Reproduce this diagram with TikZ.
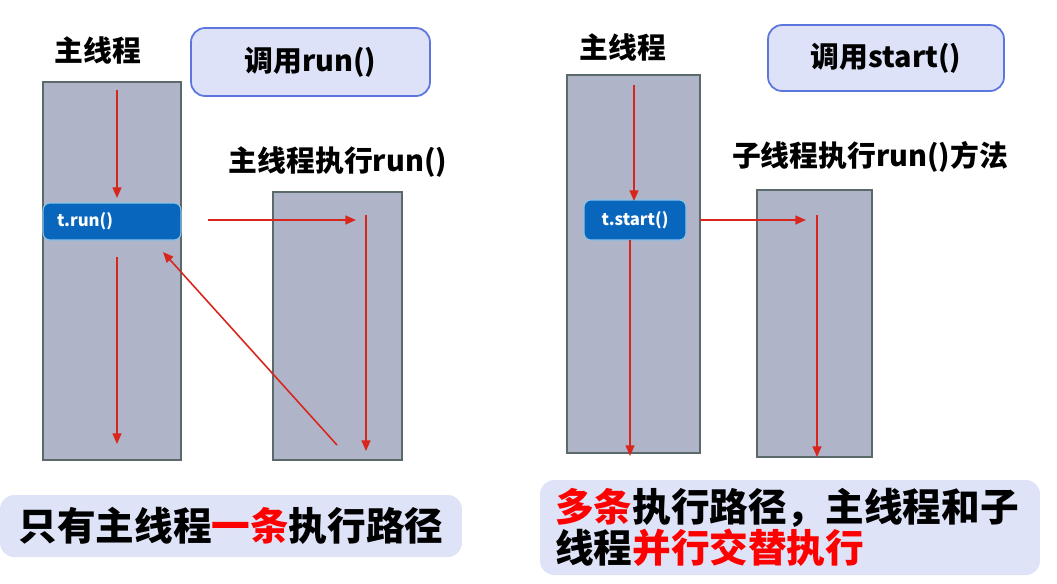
\documentclass[tikz,border=0pt]{standalone}
\usepackage{fontspec}
\setmainfont{Noto Sans CJK SC}
\usetikzlibrary{positioning,arrows.meta}
\definecolor{ThreadGray}{RGB}{175,180,201}
\definecolor{ThreadEdge}{RGB}{90,106,106}
\definecolor{CallFill}{RGB}{221,226,248}
\definecolor{CallEdge}{RGB}{92,118,222}
\definecolor{NoteFill}{RGB}{222,227,247}
\definecolor{MethodBlue}{RGB}{8,102,188}
\definecolor{MethodEdge}{RGB}{140,196,232}
\definecolor{FlowRed}{RGB}{216,38,28}

\begin{document}
\begin{tikzpicture}[x=0.02cm,y=-0.02cm,
	thread/.style={rectangle,draw=ThreadEdge,line width=1.2pt,fill=ThreadGray},
	callbox/.style={rectangle,draw=CallEdge,line width=1pt,fill=CallFill,rounded corners=8pt,
		font=\fontsize{16.4}{18}\selectfont\bfseries},
	method/.style={rectangle,draw=MethodEdge,line width=0.6pt,fill=MethodBlue,rounded corners=4pt,
		text=white,font=\fontsize{9.5}{11}\selectfont\bfseries},
	title/.style={font=\fontsize{16.4}{18}\selectfont\bfseries},
	note/.style={rectangle,fill=NoteFill,rounded corners=8pt,
		font=\fontsize{22}{23.2}\selectfont\bfseries},
	flow/.style={draw=FlowRed,line width=0.9pt,-{Triangle[length=6pt,width=5pt]}}]
	\useasboundingbox (0,0) rectangle (1057,583);

	% --- left: calling run()
	\node [title] (mainL) at (98,50) {主线程};
	\node [callbox,minimum width=4.78cm,minimum height=1.36cm] (callRun) at (310.5,62) {调用run()};
	\node [thread,minimum width=2.76cm,minimum height=7.56cm] (threadL) at (112,271) {};
	\node [method,minimum width=2.76cm,minimum height=0.74cm,text width=2.2cm,
		inner xsep=0.28cm,align=left] (trun) at (112,221.5) {t.run()};
	\node [title] (runL) at (338,162) {主线程执行run()};
	\node [thread,minimum width=2.58cm,minimum height=5.36cm] (bodyL) at (337.5,326) {};
	\node [note,minimum width=9.24cm,minimum height=1.24cm] (noteL) at (231,526)
		{只有主线程\textcolor{red}{一条}执行路径};

	\coordinate (l1) at (117,90);
	\coordinate (l2) at (117,198);
	\coordinate (l3) at (117,257);
	\coordinate (l4) at (117,444);
	\coordinate (l5) at (208,220);
	\coordinate (l6) at (356,220);
	\coordinate (l7) at (366,215);
	\coordinate (l8) at (366,451);
	\coordinate (l9) at (337,445);
	\coordinate (l10) at (163,252);
	\draw [flow] (l1) -- (l2);
	\draw [flow] (l3) -- (l4);
	\draw [flow] (l5) -- (l6);
	\draw [flow] (l7) -- (l8);
	\draw [flow] (l9) -- (l10);

	% --- right: calling start()
	\node [title] (mainR) at (623,47) {主线程};
	\node [callbox,minimum width=4.72cm,minimum height=1.32cm] (callStart) at (886,58) {调用start()};
	\node [thread,minimum width=2.66cm,minimum height=7.56cm] (threadR) at (633.5,264) {};
	\node [method,minimum width=2.04cm,minimum height=0.8cm] (tstart) at (635,220) {t.start()};
	\node [title] (runR) at (870,157) {子线程执行run()方法};
	\node [thread,minimum width=2.3cm,minimum height=5.34cm] (bodyR) at (814.5,323.5) {};
	\node [note,minimum width=10cm,minimum height=1.9cm,text width=9.4cm,align=left] (noteR) at (790,527.5)
		{\textcolor{red}{多条}执行路径，主线程和子\\线程\textcolor{red}{并行交替执行}};

	\coordinate (r1) at (634,85);
	\coordinate (r2) at (634,201);
	\coordinate (r3) at (630,240);
	\coordinate (r4) at (630,456);
	\coordinate (r5) at (700,220);
	\coordinate (r6) at (806,220);
	\coordinate (r7) at (817,215);
	\coordinate (r8) at (817,457);
	\draw [flow] (r1) -- (r2);
	\draw [flow] (r3) -- (r4);
	\draw [flow] (r5) -- (r6);
	\draw [flow] (r7) -- (r8);
\end{tikzpicture}
\end{document}
